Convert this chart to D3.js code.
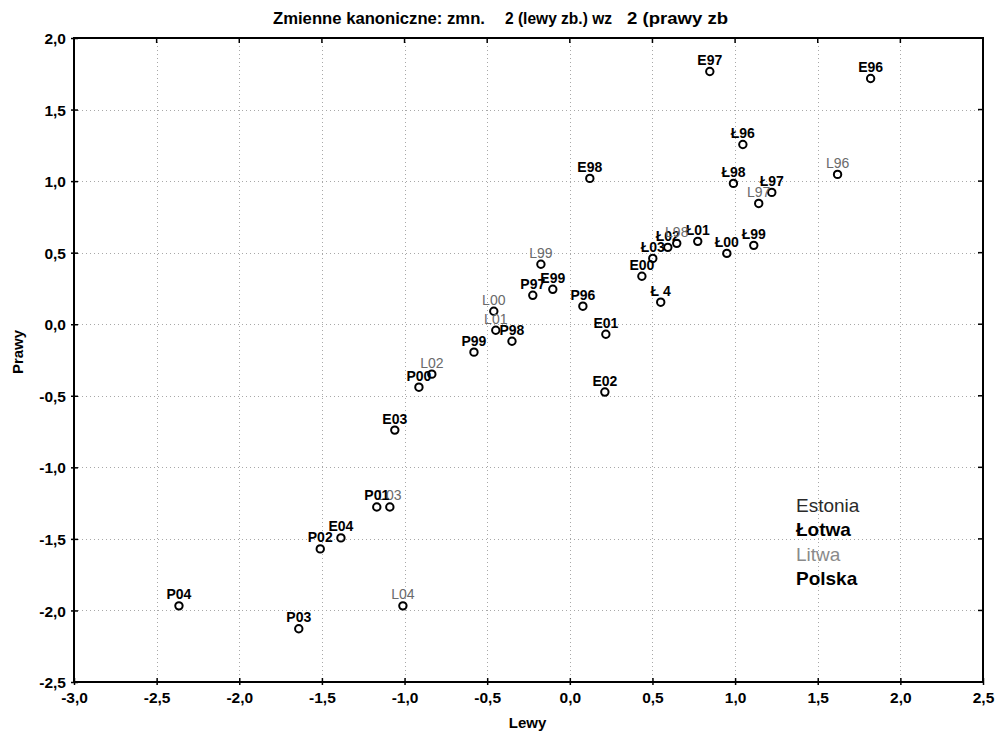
<!DOCTYPE html>
<html><head><meta charset="utf-8">
<script src="https://cdn.jsdelivr.net/npm/d3@7"></script>
<style>
body{margin:0;background:#fff;}
svg{display:block;font-family:"Liberation Sans",Arial,sans-serif;}
</style></head>
<body>
<svg id="chart" width="995" height="739"></svg>
<script>
// ---- data ----
const xTicks = [-3.0,-2.5,-2.0,-1.5,-1.0,-0.5,0.0,0.5,1.0,1.5,2.0,2.5];
const yTicks = [2.0,1.5,1.0,0.5,0.0,-0.5,-1.0,-1.5,-2.0,-2.5];
const groups = ["Estonia","Łotwa","Litwa","Polska"];

const estoniaLabels = ["E96","E97","E98","E99","E00","E01","E02","E03","E04"];
const estoniaX = [1.82,0.847,0.121,-0.103,0.436,0.218,0.212,-1.059,-1.385];
const estoniaY = [1.717,1.766,1.019,0.244,0.335,-0.070,-0.474,-0.740,-1.493];

const lotwaLabels = ["Ł96","Ł97","Ł98","Ł99","Ł00","Ł01","Ł02","Ł03","Ł 4"];
const lotwaX = [1.047,1.222,0.990,1.113,0.950,0.774,0.593,0.502,0.550];
const lotwaY = [1.256,0.921,0.984,0.551,0.495,0.579,0.537,0.460,0.154];

const litwaLabels = ["L96","L97","L98","L99","L00","L01","L02","L03","L04"];
const litwaX = [1.620,1.143,0.647,-0.175,-0.460,-0.448,-0.835,-1.089,-1.010];
const litwaY = [1.047,0.844,0.565,0.419,0.091,-0.042,-0.349,-1.277,-1.968];

const polskaLabels = ["P96","P97","P98","P99","P00","P01","P02","P03","P04"];
const polskaX = [0.079,-0.224,-0.350,-0.580,-0.913,-1.168,-1.510,-1.640,-2.365];
const polskaY = [0.126,0.202,-0.119,-0.195,-0.440,-1.277,-1.570,-2.128,-1.968];

const titleParts = ["Zmienne kanoniczne: zmn.", "2 (lewy zb.) wz", "2 (prawy zb"];
const xTitle = "Lewy", yTitle = "Prawy";

// ---- styles ----
const groupStyle = {
  "Estonia": {label:{fill:"#000",weight:"bold"}, legend:{fill:"#2a2a2a",weight:"normal"}},
  "Łotwa":   {label:{fill:"#000",weight:"bold"}, legend:{fill:"#000",weight:"bold"}},
  "Litwa":   {label:{fill:"#6a6a6a",weight:"normal"}, legend:{fill:"#8a8a8a",weight:"normal"}},
  "Polska":  {label:{fill:"#000",weight:"bold"}, legend:{fill:"#000",weight:"bold"}}
};

const series = [
  {g:"Estonia", labels:estoniaLabels, xs:estoniaX, ys:estoniaY},
  {g:"Łotwa", labels:lotwaLabels, xs:lotwaX, ys:lotwaY},
  {g:"Litwa", labels:litwaLabels, xs:litwaX, ys:litwaY},
  {g:"Polska", labels:polskaLabels, xs:polskaX, ys:polskaY}
];
const points = [];
series.forEach(s => s.labels.forEach((l,i) => points.push({g:s.g, label:l, x:s.xs[i], y:s.ys[i]})));

const L = 74, R = 983, T = 38, B = 682;
const svg = d3.select("#chart");
const x = d3.scaleLinear().domain([-3,2.5]).range([L,R]);
const y = d3.scaleLinear().domain([-2.5,2]).range([B,T]);

// grid
const grid = svg.append("g").attr("stroke","#a8a8a8").attr("stroke-width",1).attr("stroke-dasharray","1,3");
grid.selectAll("line.v").data(xTicks.slice(1,-1)).join("line")
  .attr("x1",d=>Math.round(x(d))+0.5).attr("x2",d=>Math.round(x(d))+0.5).attr("y1",T).attr("y2",B);
grid.selectAll("line.h").data(yTicks.slice(1,-1)).join("line")
  .attr("y1",d=>Math.round(y(d))+0.5).attr("y2",d=>Math.round(y(d))+0.5).attr("x1",L).attr("x2",R);

// axes
const fmt = d => d3.format(".1f")(d).replace("\u2212","-").replace(".",",");
const xAxis = d3.axisBottom(x).tickValues(xTicks).tickFormat(fmt).tickSize(4).tickSizeOuter(0);
const yAxis = d3.axisLeft(y).tickValues(yTicks).tickFormat(fmt).tickSize(4).tickSizeOuter(0);
const FF = "Liberation Sans, Arial, sans-serif";

const gx = svg.append("g").attr("transform",`translate(0,${B})`).call(xAxis)
  .attr("font-family",FF).attr("font-size",15.5);
gx.select(".domain").remove();
gx.selectAll(".tick line").attr("y1",-4).attr("y2",3).attr("stroke","#000").attr("stroke-width",1.5);
gx.selectAll(".tick text").attr("y",0).attr("dy",null).attr("transform","translate(0,21)")
  .attr("font-weight","bold").attr("fill","#000");

const gy = svg.append("g").attr("transform",`translate(${L},0)`).call(yAxis)
  .attr("font-family",FF).attr("font-size",15.5);
gy.select(".domain").remove();
gy.selectAll(".tick line").attr("x1",-3).attr("x2",4).attr("stroke","#000").attr("stroke-width",1.5);
gy.selectAll(".tick text").attr("x",-8).attr("dy","0.36em")
  .attr("font-weight","bold").attr("fill","#000");

// top/right inner ticks
const axT = svg.append("g").attr("stroke","#000").attr("stroke-width",1.5);
axT.selectAll("line.t").data(xTicks).join("line")
  .attr("x1",d=>x(d)).attr("x2",d=>x(d)).attr("y1",T).attr("y2",T+5);
axT.selectAll("line.r").data(yTicks).join("line")
  .attr("x1",R-5).attr("x2",R).attr("y1",d=>y(d)).attr("y2",d=>y(d));

// frame
svg.append("rect").attr("x",L).attr("y",T).attr("width",R-L).attr("height",B-T)
  .attr("fill","none").attr("stroke","#000").attr("stroke-width",2);

// points
const pg = svg.append("g");
pg.selectAll("circle").data(points).join("circle")
  .attr("cx",d=>x(d.x)).attr("cy",d=>y(d.y)).attr("r",3.7)
  .attr("fill","none").attr("stroke","#000").attr("stroke-width",2);
pg.selectAll("text").data(points).join("text")
  .attr("x",d=>x(d.x)).attr("y",d=>y(d.y)-6.5)
  .attr("text-anchor","middle").attr("font-size",14)
  .attr("font-weight",d=>groupStyle[d.g].label.weight)
  .attr("fill",d=>groupStyle[d.g].label.fill)
  .text(d=>d.label);

// legend
svg.append("g").selectAll("text").data(groups).join("text")
  .attr("x",796).attr("y",(d,i)=>512+i*24.3)
  .attr("font-size",19)
  .attr("font-weight",d=>groupStyle[d].legend.weight)
  .attr("fill",d=>groupStyle[d].legend.fill)
  .text(d=>d);

// titles
const titleX = [273, 505, 627];
const titleW = [212, 107, 101];
const tg = svg.append("g").attr("font-size",16.5).attr("font-weight","bold");
tg.selectAll("text").data(titleParts).join("text")
  .attr("x",(d,i)=>titleX[i]).attr("y",24)
  .attr("textLength",(d,i)=>titleW[i]).attr("lengthAdjust","spacingAndGlyphs")
  .text(d=>d);
svg.append("text").attr("x",(L+R)/2 - 1).attr("y",728).attr("text-anchor","middle")
  .attr("font-size",15).attr("font-weight","bold").text(xTitle);
svg.append("text").attr("transform",`translate(23,352) rotate(-90)`).attr("text-anchor","middle")
  .attr("font-size",15).attr("font-weight","bold").text(yTitle);
</script>
</body></html>
